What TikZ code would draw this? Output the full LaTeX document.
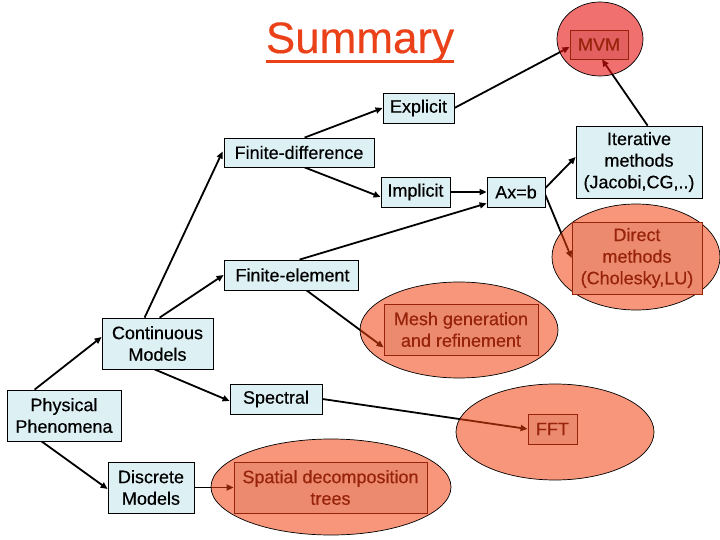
\documentclass[tikz,border=0pt]{standalone}
\usepackage{fontspec}
\setmainfont{Liberation Sans}[FakeBold=0.35]
\usetikzlibrary{arrows.meta,shapes.geometric,backgrounds}
\definecolor{boxblue}{RGB}{221,240,243}
\definecolor{salmonbase}{RGB}{242,64,13}
\definecolor{mvmbase}{RGB}{230,17,17}
\definecolor{salmonrect}{RGB}{236,138,112}
\definecolor{mvmrect}{RGB}{226,96,96}
\definecolor{darkred}{RGB}{150,35,10}
\definecolor{titlered}{RGB}{235,65,25}
\newcommand\thickul[1]{\setbox0\hbox{#1}\rlap{\rule[-10pt]{\wd0}{3pt}}\box0}
\begin{document}
\begin{tikzpicture}[x=1pt,y=-1pt,
 every node/.style={font=\fontsize{18}{21.6}\selectfont, inner sep=0pt, align=center},
 bluebox/.style={rectangle, draw=black, line width=0.8pt, fill=boxblue},
 blob/.style={ellipse, draw=black, line width=0.7pt, fill=salmonbase, fill opacity=0.55},
 mvmblob/.style={blob, fill=mvmbase, fill opacity=0.6},
 redbox/.style={rectangle, draw=darkred, line width=0.8pt, fill=salmonrect, text=darkred},
 mvmredbox/.style={redbox, fill=mvmrect},
 conn/.style={draw=black, line width=1.8pt, -{Triangle[length=7pt,width=6pt]}},
]
\useasboundingbox (0,0) rectangle (720,540);

% title
\node[anchor=base, text=titlered, font=\fontsize{44}{52}\selectfont] (title) at (360,53) {\thickul{Summary}};

% blue boxes
\node[bluebox, minimum width=114pt, minimum height=51pt] (phys) at (64,415.5) {Physical\\Phenomena};
\node[bluebox, minimum width=111pt, minimum height=51pt] (cont) at (157.5,343.5) {Continuous\\Models};
\node[bluebox, minimum width=86pt, minimum height=51pt] (disc) at (151,487.5) {Discrete\\Models};
\node[bluebox, minimum width=150pt, minimum height=29pt] (fd) at (299,152.5) {Finite-difference};
\node[bluebox, minimum width=134pt, minimum height=30pt] (fe) at (291,275) {\hspace*{3pt}Finite-element};
\node[bluebox, minimum width=71pt, minimum height=30pt] (expl) at (418.5,108) {Explicit};
\node[bluebox, minimum width=69pt, minimum height=30pt] (impl) at (415.5,192) {Implicit};
\node[bluebox, minimum width=58pt, minimum height=30pt] (axb) at (516,192) {Ax=b};
\node[bluebox, minimum width=126pt, minimum height=72pt] (iter) at (639,162) {Iterative\\methods\\(Jacobi,CG,..)};
\node[bluebox, minimum width=92pt, minimum height=30pt] (spec) at (276,399) {Spectral};

% red ellipses and their boxes
\node[mvmblob, minimum width=86pt, minimum height=74pt] (mvmell) at (600,39) {};
\node[mvmredbox, minimum width=58pt, minimum height=29pt] (mvm) at (599,44.5) {MVM};
\node[blob, minimum width=168pt, minimum height=106pt] (dirEll) at (636,257) {};
\node[redbox, minimum width=130pt, minimum height=72pt] (direct) at (637,258) {Direct\\methods\\(Cholesky,LU)};
\node[blob, minimum width=198pt, minimum height=96pt] (meshell) at (459,330) {};
\node[redbox, minimum width=154pt, minimum height=51pt] (mesh) at (461,329.5) {Mesh generation\\and refinement};
\node[blob, minimum width=198pt, minimum height=96pt] (fftell) at (555,432) {};
\node[redbox, minimum width=49pt, minimum height=30pt] (fft) at (552.5,429) {FFT};
\node[blob, minimum width=240pt, minimum height=96pt] (spell) at (331,487) {};
\node[redbox, minimum width=193pt, minimum height=51pt] (spatial) at (330.5,487.5) {Spatial decomposition\\trees};

\begin{pgfonlayer}{background}
\fill[white] (0,0) rectangle (720,540);
\draw[conn] ([xshift=28pt]phys.north west) -- ([yshift=6.5pt]cont.west);
\draw[conn] ([xshift=35pt]phys.south west) -- ([yshift=-1.5pt]disc.west);
\draw[conn] ([xshift=43pt]cont.north west) -- ([xshift=-1pt,yshift=1pt]fd.west);
\draw[conn] ([xshift=58pt]cont.north west) -- (fe.west);
\draw[conn] ([xshift=53pt]cont.south west) -- ([yshift=-2pt]spec.west);
\draw[conn] (spec.east) -- (fft.west);
\draw[conn] (disc.east) -- (spatial.west);
\draw[conn] ([xshift=81pt]fd.north west) -- (expl.west);
\draw[conn] (expl.east) -- ([yshift=-2.5pt]mvm.west);
\draw[conn] ([xshift=81pt]fd.south west) -- ([yshift=-5pt]impl.west);
\draw[conn] (impl.east) -- (axb.west);
\draw[conn] ([yshift=4pt]axb.east) -- ([yshift=5pt]iter.west);
\draw[conn] ([yshift=-3pt]axb.east) -- (direct.west);
\draw[conn] ([xshift=76pt]fe.north west) -- ([yshift=4pt]axb.south west);
\draw[conn] ([xshift=83pt]fe.south west) -- ([yshift=8pt]mesh.south west);
\draw[conn] ([xshift=72pt]iter.north west) -- ([xshift=3pt]mvm.south);
\end{pgfonlayer}
\end{tikzpicture}
\end{document}
